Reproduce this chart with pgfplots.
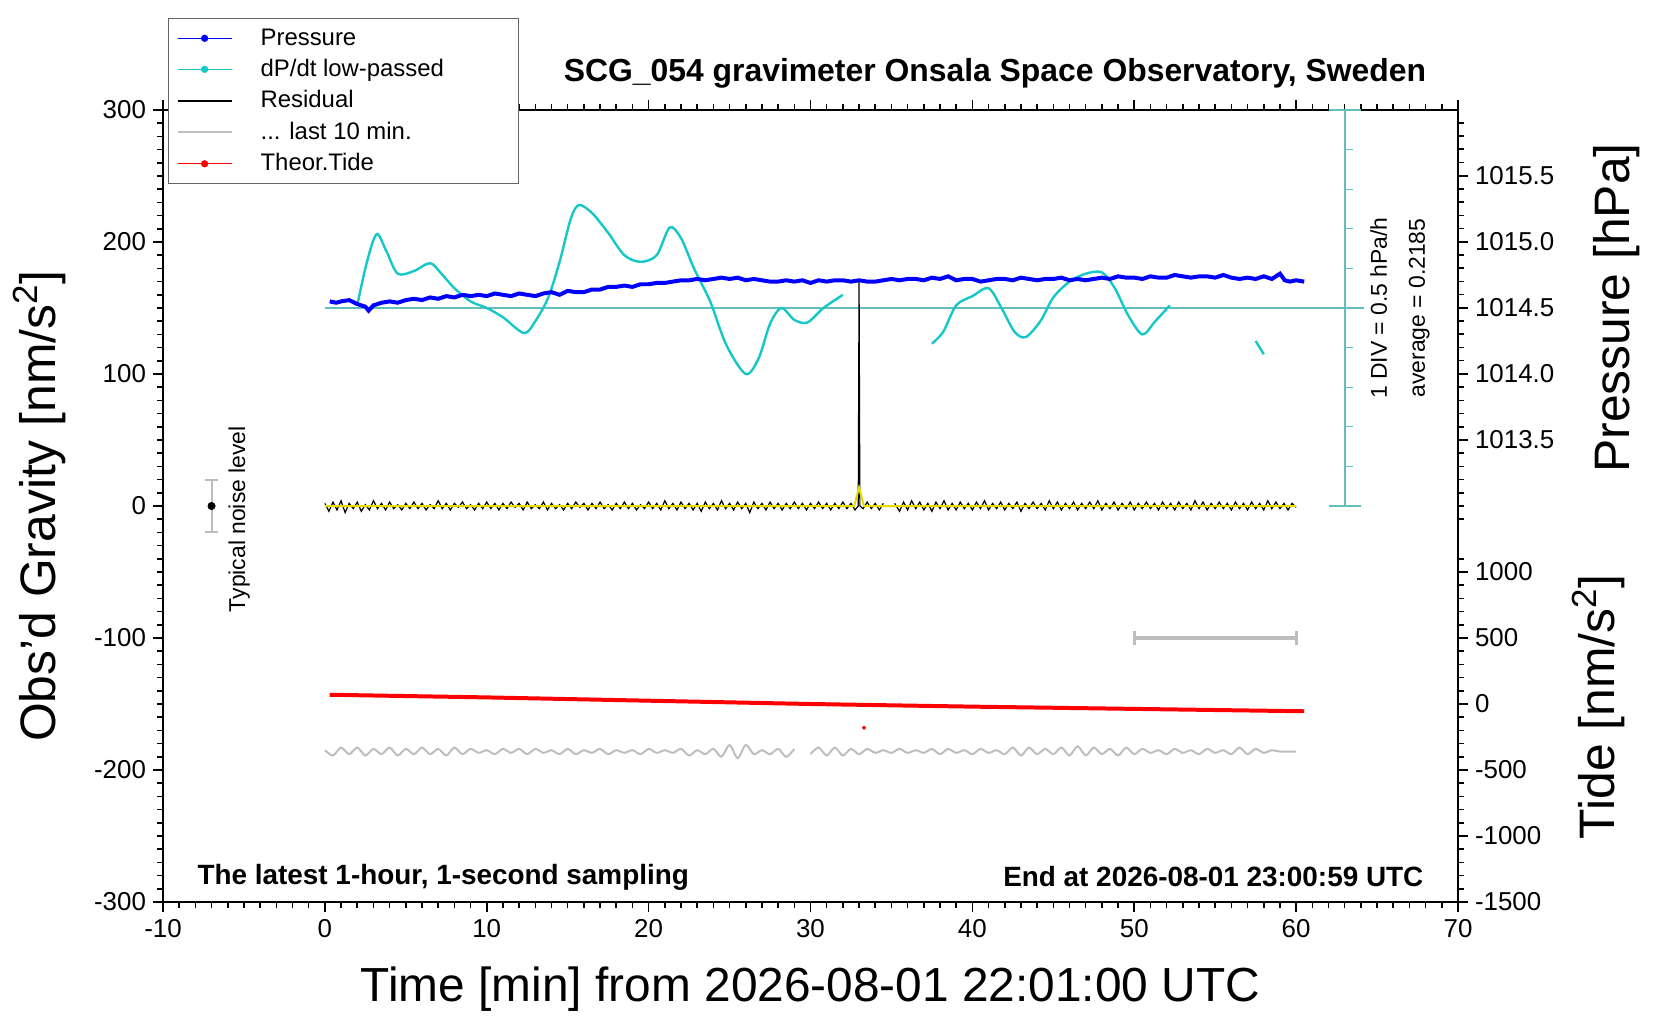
\documentclass[border=0pt]{standalone}
\usepackage{pgfplots}
\pgfplotsset{compat=1.18}
\usepackage{fontspec}
\setmainfont{Liberation Sans}
\definecolor{cy}{RGB}{20,200,200}
\definecolor{cyax}{RGB}{100,190,190}
\definecolor{gr}{RGB}{190,190,190}
\definecolor{yl}{RGB}{230,220,0}
\newcommand{\legtxt}[1]{\makebox[135bp][l]{\hspace{12bp}#1}}
\begin{document}
\begin{tikzpicture}
\pgfplotsset{
  base/.style={at={(0,0)},anchor=south west,scale only axis,width=647.5bp,height=396bp,
    xmin=-10,xmax=70,tick align=outside,
    major tick length=5bp,minor tick length=3bp,
    every tick/.style={black,line width=0.8pt},
    tick label style={font=\fontsize{13}{13}\selectfont},
    /pgf/number format/assume math mode=true,
    /pgf/number format/.cd,fixed,1000 sep={}}
}
\begin{axis}[base,ymin=-300,ymax=300,
  xtick={-10,0,...,70},minor x tick num=9,xtick pos=both,xticklabel pos=lower,
  ytick={-300,-200,...,300},minor y tick num=9,ytick pos=left,
  axis line style={line width=1pt},clip=false,
  legend style={at={(rel axis cs:0.004,1.116)},anchor=north west,font=\fontsize{12}{12}\selectfont,
    draw=black!60,line width=0.5pt,inner xsep=4pt,inner ysep=3pt,row sep=1.6pt},
  legend cell align=left,
  legend image code/.code={\draw[#1] (10bp,0bp) -- (37bp,0bp); \fill[#1] (23.5bp,0bp) circle (1.6bp);},
]
% legend entries
\addlegendimage{blue,line width=0.4pt}\addlegendentry{\legtxt{Pressure}}
\addlegendimage{cy,line width=0.4pt}\addlegendentry{\legtxt{dP/dt low-passed}}
\addlegendimage{legend image code/.code={\draw[black,line width=0.8pt] (10bp,0bp)--(37bp,0bp);}}\addlegendentry{\legtxt{Residual}}
\addlegendimage{legend image code/.code={\draw[gr,line width=1pt] (10bp,0bp)--(37bp,0bp);}}\addlegendentry{\legtxt{... last 10 min.}}
\addlegendimage{red,line width=0.4pt}\addlegendentry{\legtxt{Theor.Tide}}
% cyan reference axis
\addplot[cyax,line width=0.8pt,forget plot] coordinates {(0,150)(64.2,150)};
\addplot[cyax,line width=0.8pt,forget plot] coordinates {(62,0)(64,0)};
\addplot[cyax,line width=0.8pt,forget plot] coordinates {(62,300)(64,300)};
\addplot[cyax,line width=0.6pt,forget plot] coordinates {(63,30)(63.5,30)};
\addplot[cyax,line width=0.6pt,forget plot] coordinates {(63,60)(63.5,60)};
\addplot[cyax,line width=0.6pt,forget plot] coordinates {(63,90)(63.5,90)};
\addplot[cyax,line width=0.6pt,forget plot] coordinates {(63,120)(63.5,120)};
\addplot[cyax,line width=0.6pt,forget plot] coordinates {(63,180)(63.5,180)};
\addplot[cyax,line width=0.6pt,forget plot] coordinates {(63,210)(63.5,210)};
\addplot[cyax,line width=0.6pt,forget plot] coordinates {(63,240)(63.5,240)};
\addplot[cyax,line width=0.6pt,forget plot] coordinates {(63,270)(63.5,270)};
\addplot[cyax,line width=1.2pt,forget plot] coordinates {(63,0)(63,300)};
% dP/dt
\addplot[cy,line width=1.2pt,smooth,forget plot] coordinates {(2,152)(2.6,185)(3.2,206)(3.8,193)(4.5,176)(5.5,178)(6.5,184)(7.2,176)(8,165)(9,155)(10,150)(11,143)(12.3,131)(13,140)(13.8,158)(14.5,185)(15.2,218)(15.7,228)(16.5,222)(17.5,207)(18.5,190)(19.5,185)(20.5,190)(21.3,211)(22,203)(22.8,180)(23.8,155)(24.8,122)(26,100)(26.8,112)(27.5,138)(28.2,150)(29,141)(29.8,139)(30.8,150)(32,160)};
\addplot[cy,line width=1.2pt,smooth,forget plot] coordinates {(37.5,123)(38.2,132)(39,152)(40,159)(41,165)(41.8,150)(42.6,132)(43.3,128)(44.2,140)(45,158)(46,170)(47,176)(48,177)(48.8,165)(49.6,145)(50.5,130)(51.3,140)(52.2,152)};
\addplot[cy,line width=1.2pt,forget plot] coordinates {(57.5,125)(58,115)};
% pressure
\addplot[blue,line width=2pt,forget plot] coordinates {(0.3,155)(0.7,154)(1,155)(1.5,156)(2,153)(2.5,151)(2.7,148)(3,152)(3.5,154)(4,155)(4.5,154)(5,156)(5.5,157)(6,156)(6.5,158)(7,157)(7.5,159)(8,158)(8.5,160)(9,159)(9.5,160)(10,159)(10.5,161)(11,160)(11.5,159)(12,161)(12.5,160)(13,159)(13.5,161)(14,162)(14.5,160)(15,163)(15.5,162)(16,162)(16.5,164)(17,164)(17.5,166)(18,166)(18.5,167)(19,166)(19.5,168)(20,168)(20.5,169)(21,169)(21.5,170)(22,171)(22.5,171)(23,172)(23.5,171)(24,172)(24.5,173)(25,172)(25.5,173)(26,171)(26.5,172)(27,171)(27.5,170)(28,170)(28.5,171)(29,170)(29.5,171)(30,169)(30.5,171)(31,170)(31.5,171)(32,171)(32.5,170)(33,171)(33.5,170)(34,170)(34.5,171)(35,172)(35.5,171)(36,172)(36.5,172)(37,171)(37.5,173)(38,172)(38.5,174)(39,171)(39.5,172)(40,172)(40.5,170)(41,171)(41.5,172)(42,172)(42.5,171)(43,173)(43.5,172)(44,171)(44.5,172)(45,172)(45.5,173)(46,171)(46.5,172)(47,171)(47.5,172)(48,173)(48.5,172)(49,174)(49.5,173)(50,173)(50.5,172)(51,174)(51.5,173)(52,173)(52.5,175)(53,174)(53.5,173)(54,174)(54.5,174)(55,173)(55.5,175)(56,173)(56.5,172)(57,173)(57.5,172)(58,174)(58.5,172)(59,176)(59.3,171)(59.6,170)(60,171)(60.5,170)};
% residual
\addplot[black,line width=0.6pt,forget plot] coordinates {(0,2)(0.25,-4)(0.5,3)(0.75,-3)(1,4)(1.25,-5)(1.5,2)(1.75,-2)(2,3)(2.25,-4)(2.5,1)(2.75,-3)(3,4)(3.25,-2)(3.5,2)(3.75,-3)(4,3)(4.25,-2)(4.5,1)(4.75,-3)(5,2)(5.25,-2)(5.5,3)(5.75,-2)(6,2)(6.25,-3)(6.5,1)(6.75,-2)(7,4)(7.25,-2)(7.5,2)(7.75,-3)(8,2)(8.25,-1)(8.5,3)(8.75,-2)(9,1)(9.25,-3)(9.5,2)(9.75,-2)(10,3)(10.25,-2)(10.5,2)(10.75,-3)(11,2)(11.25,-2)(11.5,3)(11.75,-1)(12,2)(12.25,-3)(12.5,3)(12.75,-2)(13,1)(13.25,-2)(13.5,3)(13.75,-3)(14,2)(14.25,-2)(14.5,1)(14.75,-3)(15,2)(15.25,-2)(15.5,3)(15.75,-1)(16,2)(16.25,-3)(16.5,2)(16.75,-2)(17,3)(17.25,-2)(17.5,1)(17.75,-3)(18,2)(18.25,-2)(18.5,3)(18.75,-2)(19,2)(19.25,-3)(19.5,1)(19.75,-2)(20,3)(20.25,-2)(20.5,2)(20.75,-3)(21,4)(21.25,-2)(21.5,2)(21.75,-3)(22,3)(22.25,-2)(22.5,2)(22.75,-3)(23,2)(23.25,-4)(23.5,3)(23.75,-2)(24,2)(24.25,-3)(24.5,4)(24.75,-2)(25,2)(25.25,-3)(25.5,3)(25.75,-2)(26,2)(26.25,-5)(26.5,3)(26.75,-2)(27,2)(27.25,-3)(27.5,3)(27.75,-2)(28,2)(28.25,-3)(28.5,2)(28.75,-2)(29,3)(29.25,-2)(29.5,2)(29.75,-3)(30,2)(30.25,-2)(30.5,3)(30.75,-2)(31,2)(31.25,-3)(31.5,2)(31.75,-2)(32,3)(32.25,-2)(32.5,2)(32.75,-3)(32.95,0)(33.0,170)(33.05,0)(33.25,-2)(33.5,3)(33.75,-2)(34,2)(34.25,-3)(34.5,2)};
\addplot[black,line width=0.6pt,forget plot] coordinates {(35.2,2)(35.5,-4)(35.75,3)(36,-3)(36.25,4)(36.5,-2)(36.75,3)(37,-3)(37.25,2)(37.5,-4)(37.75,3)(38,-2)(38.25,4)(38.5,-3)(38.75,2)(39,-3)(39.25,3)(39.5,-2)(39.75,2)(40,-3)(40.25,3)(40.5,-2)(40.75,4)(41,-3)(41.25,2)(41.5,-2)(41.75,3)(42,-3)(42.25,2)(42.5,-2)(42.75,3)(43,-4)(43.25,2)(43.5,-2)(43.75,3)(44,-2)(44.25,2)(44.5,-3)(44.75,4)(45,-2)(45.25,3)(45.5,-3)(45.75,2)(46,-2)(46.25,3)(46.5,-3)(46.75,2)(47,-2)(47.25,3)(47.5,-2)(47.75,4)(48,-3)(48.25,2)(48.5,-2)(48.75,3)(49,-3)(49.25,2)(49.5,-2)(49.75,3)(50,-3)(50.25,2)(50.5,-2)(50.75,3)(51,-2)(51.25,2)(51.5,-3)(51.75,3)(52,-2)(52.25,2)(52.5,-3)(52.75,3)(53,-2)(53.25,2)(53.5,-3)(53.75,4)(54,-2)(54.25,3)(54.5,-3)(54.75,2)(55,-2)(55.25,3)(55.5,-2)(55.75,2)(56,-3)(56.25,3)(56.5,-2)(56.75,2)(57,-3)(57.25,3)(57.5,-2)(57.75,2)(58,-3)(58.25,4)(58.5,-2)(58.75,3)(59,-2)(59.25,2)(59.5,-3)(59.75,2)(60,-1)};
\addplot[yl,line width=1pt,forget plot] coordinates {(0,0)(32.7,0)(33,14)(33.3,0)(60,0)};
% last 10 min
\addplot[gr,line width=1pt,smooth,forget plot] coordinates {(0,-185)(0.5,-189)(1,-183)(1.5,-188)(2,-183)(2.5,-189)(3,-184)(3.5,-188)(4,-183)(4.5,-189)(5,-184)(5.5,-188)(6,-183)(6.5,-188)(7,-184)(7.5,-189)(8,-183)(8.5,-188)(9,-184)(9.5,-187)(10,-185)(10.5,-188)(11,-184)(11.5,-187)(12,-184)(12.5,-188)(13,-184)(13.5,-187)(14,-185)(14.5,-188)(15,-184)(15.5,-188)(16,-185)(16.5,-187)(17,-184)(17.5,-188)(18,-185)(18.5,-187)(19,-185)(19.5,-188)(20,-184)(20.5,-187)(21,-185)(21.5,-187)(22,-184)(22.5,-189)(23,-185)(23.5,-188)(24,-184)(24.5,-190)(25,-181)(25.5,-191)(26,-181)(26.5,-188)(27,-185)(27.5,-188)(28,-184)(28.5,-190)(29,-184)};
\addplot[gr,line width=1pt,smooth,forget plot] coordinates {(30,-188)(30.5,-183)(31,-189)(31.5,-183)(32,-189)(32.5,-184)(33,-188)(33.5,-184)(34,-187)(34.5,-185)(35,-187)(35.5,-184)(36,-187)(36.5,-185)(37,-187)(37.5,-184)(38,-188)(38.5,-184)(39,-187)(39.5,-185)(40,-188)(40.5,-184)(41,-187)(41.5,-185)(42,-188)(42.5,-183)(43,-189)(43.5,-183)(44,-188)(44.5,-184)(45,-188)(45.5,-183)(46,-189)(46.5,-182)(47,-189)(47.5,-183)(48,-188)(48.5,-184)(49,-189)(49.5,-183)(50,-188)(50.5,-184)(51,-187)(51.5,-185)(52,-188)(52.5,-184)(53,-187)(53.5,-185)(54,-188)(54.5,-184)(55,-187)(55.5,-185)(56,-188)(56.5,-183)(57,-188)(57.5,-184)(58,-187)(58.5,-185)(59,-186)(60,-186)};
% tide
\addplot[red,line width=2pt,forget plot] coordinates {(0.3,-143)(10,-145)(20,-147.5)(30,-150)(40,-152)(50,-153.7)(60.5,-155.5)};
\addplot[red,only marks,mark=*,mark size=0.8pt,forget plot] coordinates {(33.3,-168)};
% scale bar
\addplot[gr,line width=2pt,forget plot] coordinates {(50,-100)(60,-100)};
\addplot[gr,line width=1.5pt,forget plot] coordinates {(50,-105)(50,-95)};
\addplot[gr,line width=1.5pt,forget plot] coordinates {(60,-105)(60,-95)};
% noise bar
\addplot[gr,line width=1pt,forget plot] coordinates {(-7,-20)(-7,20)};
\addplot[gr,line width=1pt,forget plot] coordinates {(-7.4,20)(-6.6,20)};
\addplot[gr,line width=1pt,forget plot] coordinates {(-7.4,-20)(-6.6,-20)};
\addplot[black,only marks,mark=*,mark size=1.8pt,forget plot] coordinates {(-7,0)};
% texts
\node[rotate=90,font=\fontsize{11.5}{11.5}\selectfont] at (axis cs:-5.3,-10) {Typical noise level};
\node[rotate=90,font=\fontsize{11.5}{11.5}\selectfont] at (axis cs:65.1,150) {1 DIV = 0.5 hPa/h};
\node[rotate=90,font=\fontsize{11.5}{11.5}\selectfont] at (axis cs:67.6,150) {average = 0.2185};
\node[font=\bfseries\fontsize{16}{16}\selectfont] at (axis cs:41.4,328) {SCG\_054 gravimeter Onsala Space Observatory, Sweden};
\node[anchor=west,font=\bfseries\fontsize{14}{14}\selectfont] at (axis cs:-8.3,-281) {The latest 1-hour, 1-second sampling};
\node[anchor=east,font=\bfseries\fontsize{14}{14}\selectfont] at (axis cs:68.3,-281) {End at 2026-08-01 23:00:59 UTC};
\node[rotate=90,font=\fontsize{25}{25}\selectfont] at (axis cs:-17.6,0) {Obs'd Gravity [nm/s\textsuperscript{2}]};
\node[rotate=90,font=\fontsize{25}{25}\selectfont] at (axis cs:79.8,150) {Pressure [hPa]};
\node[rotate=90,font=\fontsize{25}{25}\selectfont] at (axis cs:78.7,-152) {Tide [nm/s\textsuperscript{2}]};
\node[font=\fontsize{24}{24}\selectfont] at (axis cs:30,-366) {Time [min] from 2026-08-01 22:01:00 UTC};
\end{axis}
\begin{axis}[base,ymin=1010,ymax=1016,axis y line*=right,hide x axis,
  ytick={1013.5,1014,...,1015.5},minor ytick={1012.9,1013.0,...,1015.9},
  yticklabels={1013.5,1014.0,1014.5,1015.0,1015.5},
  axis line style={line width=1pt}]
\end{axis}
\begin{axis}[base,ymin=-1500,ymax=4500,axis y line*=right,hide x axis,
  ytick={-1500,-1000,...,1000},minor ytick={-1400,-1300,...,1100},
  axis line style={line width=1pt}]
\end{axis}
\pgfresetboundingbox
\path[use as bounding box] (-81.5bp,-59bp) rectangle (748.5bp,451bp);
\end{tikzpicture}
\end{document}
